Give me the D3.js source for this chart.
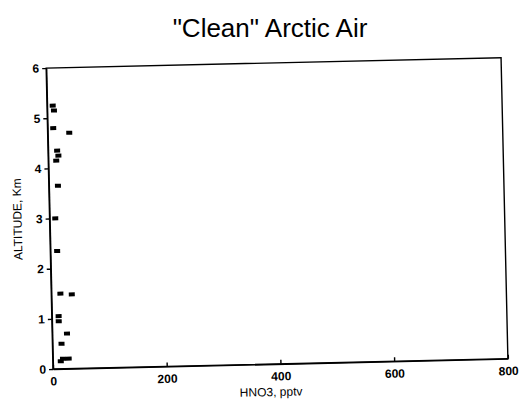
<!DOCTYPE html>
<html>
<head>
<meta charset="utf-8">
<script src="https://cdn.jsdelivr.net/npm/d3@7"></script>
<style>
  body { margin: 0; background: #fff; }
  svg { font-family: "Liberation Sans", Arial, sans-serif; }
  .axis path, .axis line { stroke: #000; stroke-width: 1.4; }
  .axis text { font-size: 12px; font-weight: bold; fill: #000; }
</style>
</head>
<body>
<svg width="520" height="406"></svg>
<script>
// altitude (km) and HNO3 (pptv)
var altitude = [5.25, 5.15, 4.8, 4.7, 4.35, 4.25, 4.15, 3.65, 3.0, 2.35, 1.5, 1.48, 1.05, 0.95, 0.7, 0.5, 0.2, 0.2, 0.15];
var hno3 = [10, 12, 10, 38, 16, 18, 14, 16, 10, 12, 16, 36, 12, 12, 26, 16, 18, 28, 14];
var xTicks = [0, 200, 400, 600, 800];
var yTicks = [0, 1, 2, 3, 4, 5, 6];

var svg = d3.select("svg");
var margin = { top: 68, left: 53 };
var width = 455, height = 301;

svg.append("text")
    .attr("x", 270).attr("y", 37)
    .attr("text-anchor", "middle")
    .attr("font-size", 26)
    .text('"Clean" Arctic Air');

// scanned page is slightly tilted
var g = svg.append("g")
    .attr("transform", "rotate(-1.3," + margin.left + "," + (margin.top + height) + ") translate(" + margin.left + "," + margin.top + ")");

var x = d3.scaleLinear().domain([0, 800]).range([0, width]);
var y = d3.scaleLinear().domain([0, 6]).range([height, 0]);

g.append("rect")
    .attr("width", width).attr("height", height)
    .attr("fill", "none").attr("stroke", "#000").attr("stroke-width", 1.4);

g.append("g")
    .attr("class", "axis")
    .attr("transform", "translate(0," + height + ")")
    .call(d3.axisBottom(x).tickValues(xTicks).tickSizeInner(-4).tickSizeOuter(0).tickPadding(8));

g.append("g")
    .attr("class", "axis")
    .call(d3.axisLeft(y).tickValues(yTicks).tickFormat(d3.format("d")).tickSizeInner(4).tickSizeOuter(0).tickPadding(3));

g.selectAll(".pt")
    .data(d3.range(altitude.length))
    .enter().append("rect")
    .attr("class", "pt")
    .attr("x", function (i) { return x(hno3[i]) - 3; })
    .attr("y", function (i) { return y(altitude[i]) - 2; })
    .attr("width", 6)
    .attr("height", 4)
    .attr("fill", "#000");

g.append("text")
    .attr("x", width / 2 - 10).attr("y", height + 32)
    .attr("text-anchor", "middle")
    .attr("font-size", 12)
    .text("HNO3, pptv");

g.append("text")
    .attr("transform", "translate(-28," + (height / 2) + ") rotate(-90)")
    .attr("text-anchor", "middle")
    .attr("font-size", 12)
    .text("ALTITUDE, Km");
</script>
</body>
</html>
